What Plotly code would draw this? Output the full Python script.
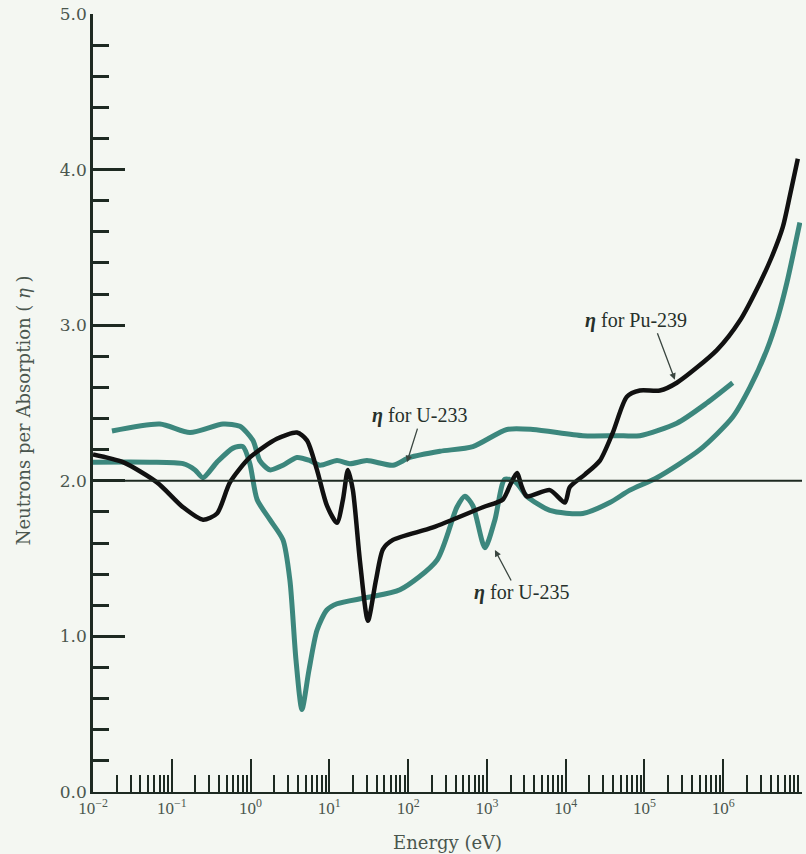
import plotly.graph_objects as go

# Neutron energy (eV) and eta values for each fissile nuclide
energy_u233 = [0.0174, 0.0708, 0.170, 0.447, 0.733, 1.07, 1.31, 1.76, 2.58, 3.88,
               5.67, 7.6, 12.5, 18.2, 30, 64, 105, 254, 664, 1795,
               3840, 16500, 44700, 87500, 258000, 620000, 1.32e6]
eta_u233 = [2.32, 2.365, 2.31, 2.365, 2.35, 2.26, 2.13, 2.07, 2.10, 2.15,
            2.13, 2.10, 2.13, 2.11, 2.13, 2.10, 2.15, 2.19, 2.22, 2.33,
            2.33, 2.29, 2.29, 2.29, 2.37, 2.50, 2.63]

energy_u235 = [0.01, 0.0528, 0.139, 0.197, 0.249, 0.375, 0.598, 0.80, 0.98, 1.21,
               1.76, 2.58, 3.16, 3.77, 4.49, 5.5, 6.97, 9.3, 12.5, 30,
               78.7, 232, 416, 526, 664, 944, 1265, 1692, 2335, 3220,
               6300, 16500, 36400, 65300, 143700, 505000, 1.32e6, 2.18e6, 3.57e6, 4.93e6,
               6.41e6, 9.4e6]
eta_u235 = [2.12, 2.12, 2.11, 2.07, 2.02, 2.12, 2.21, 2.22, 2.11, 1.88,
            1.75, 1.62, 1.36, 0.85, 0.53, 0.78, 1.04, 1.17, 1.21, 1.25,
            1.30, 1.49, 1.83, 1.90, 1.84, 1.57, 1.75, 2.01, 1.99, 1.90,
            1.81, 1.79, 1.86, 1.94, 2.02, 2.20, 2.41, 2.60, 2.84, 3.05,
            3.27, 3.66]

energy_pu239 = [0.01, 0.024, 0.0649, 0.139, 0.249, 0.375, 0.548, 0.98, 2.16, 3.88,
                5.2, 6.97, 9.33, 12.5, 14.9, 17.2, 19.9, 24.4, 30.9, 39,
                47.9, 64.1, 207, 889, 1596, 1960, 2406, 2780, 3220, 6300,
                9770, 11300, 17500, 27200, 39700, 59800, 87500, 157000, 258000, 830000,
                1.63e6, 2.91e6, 4.14e6, 5.7e6, 7.0e6, 8.85e6]
eta_pu239 = [2.17, 2.12, 1.99, 1.83, 1.75, 1.79, 1.99, 2.15, 2.27, 2.31,
             2.26, 2.07, 1.84, 1.73, 1.88, 2.07, 1.94, 1.49, 1.10, 1.36,
             1.56, 1.62, 1.70, 1.83, 1.88, 1.97, 2.05, 1.96, 1.90, 1.94,
             1.86, 1.96, 2.04, 2.13, 2.31, 2.54, 2.58, 2.58, 2.63, 2.84,
             3.03, 3.27, 3.44, 3.63, 3.83, 4.07]

decades = [-2, -1, 0, 1, 2, 3, 4, 5, 6, 7]
x_tick_vals = [10.0 ** d for d in decades]
x_tick_text = ["10<sup>" + str(d).replace("-", "\u2212") + "</sup>" for d in decades]
x_minor_vals = [m * 10.0 ** d for d in decades[:-1] for m in range(2, 10)]

y_tick_vals = [0, 1, 2, 3, 4, 5]
y_tick_text = ["0.0", "1.0", "2.0", "3.0", "4.0", "5.0"]

TEAL = "#3c877d"
INK = "#111111"
AXIS = "#1e2a22"
LABEL = "#4a564e"
BG = "#f4f7f2"

fig = go.Figure()

fig.add_trace(go.Scatter(x=energy_u233, y=eta_u233, mode="lines",
                         line=dict(color=TEAL, width=5, shape="spline", smoothing=0.7),
                         name="U-233", hoverinfo="skip"))
fig.add_trace(go.Scatter(x=energy_u235, y=eta_u235, mode="lines",
                         line=dict(color=TEAL, width=5, shape="spline", smoothing=0.7),
                         name="U-235", hoverinfo="skip"))
fig.add_trace(go.Scatter(x=energy_pu239, y=eta_pu239, mode="lines",
                         line=dict(color=INK, width=4.5, shape="spline", smoothing=0.7),
                         name="Pu-239", hoverinfo="skip"))

# reference line at eta = 2
fig.add_shape(type="line", xref="paper", x0=0, x1=1, yref="y", y0=2.0, y1=2.0,
              line=dict(color=AXIS, width=2))

label_font = dict(family="Liberation Serif", size=20, color="#26302b")
arrow_color = "#3a4640"

# curve labels
fig.add_annotation(x=2.150, y=2.42, xref="x", yref="y", text="<b><i>η</i></b> for U-233",
                   showarrow=False, font=label_font)
fig.add_annotation(x=3.444, y=1.285, xref="x", yref="y", text="<b><i>η</i></b> for U-235",
                   showarrow=False, font=label_font)
fig.add_annotation(x=4.891, y=3.03, xref="x", yref="y", text="<b><i>η</i></b> for Pu-239",
                   showarrow=False, font=label_font)

# pointer arrows from labels to curves
for tip_x, tip_y, dx, dy in [(1.985, 2.12, 11, -35), (3.102, 1.555, 17, 32), (5.386, 2.65, -18, -48)]:
    fig.add_annotation(x=tip_x, y=tip_y, xref="x", yref="y", text="", showarrow=True,
                       ax=dx, ay=dy, arrowhead=2, arrowsize=1, arrowwidth=1.3,
                       arrowcolor=arrow_color, standoff=0)

# axis titles
fig.add_annotation(x=0.5, y=-0.065, xref="paper", yref="paper", yanchor="middle",
                   text="Energy (eV)", showarrow=False,
                   font=dict(family="DejaVu Serif", size=18, color=LABEL))
fig.add_annotation(x=-0.098, y=0.49, xref="paper", yref="paper", xanchor="center",
                   text="Neutrons per Absorption ( <i>η</i> )", showarrow=False, textangle=-90,
                   font=dict(family="DejaVu Serif", size=18, color=LABEL))

fig.update_layout(
    width=806, height=854,
    margin=dict(l=93, r=4, t=14, b=62),
    paper_bgcolor=BG, plot_bgcolor=BG,
    showlegend=False,
    xaxis=dict(type="log", range=[-2, 7], showgrid=False, zeroline=False,
               showline=True, linecolor=AXIS, linewidth=2,
               tickmode="array", tickvals=x_tick_vals, ticktext=x_tick_text,
               ticks="inside", ticklen=33, tickwidth=2, tickcolor=AXIS,
               minor=dict(tickmode="array", tickvals=x_minor_vals, ticks="inside",
                          ticklen=17, tickwidth=2, tickcolor=AXIS, showgrid=False),
               tickfont=dict(family="Liberation Serif", size=17, color=LABEL)),
    yaxis=dict(range=[0, 5], showgrid=False, zeroline=False,
               showline=True, linecolor=AXIS, linewidth=2.5,
               tickmode="array", tickvals=y_tick_vals, ticktext=y_tick_text,
               ticks="inside", ticklen=32, tickwidth=2.5, tickcolor=AXIS,
               minor=dict(tickmode="linear", tick0=0, dtick=0.2, ticks="inside",
                          ticklen=16, tickwidth=2.5, tickcolor=AXIS, showgrid=False),
               tickfont=dict(family="DejaVu Serif", size=17, color=LABEL)),
)

fig.write_html("out.html")
